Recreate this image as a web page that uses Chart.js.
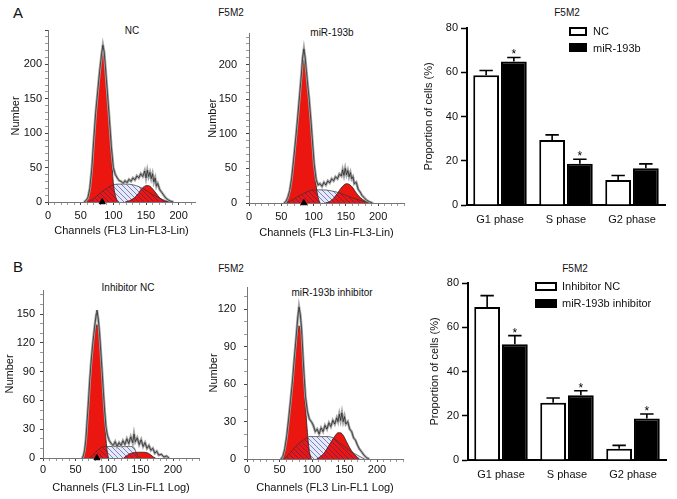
<!DOCTYPE html>
<html>
<head>
<meta charset="utf-8">
<script src="https://cdn.jsdelivr.net/npm/chart.js@4.4.0/dist/chart.umd.min.js"></script>
<style>
  body { margin: 0; background: #fff; font-family: "Liberation Sans", Arial, sans-serif; color: #111; }
  #fig { position: relative; width: 677px; height: 499px; overflow: hidden; }
  canvas { position: absolute; }
  .t { position: absolute; white-space: nowrap; transform: translate(-50%, -50%); font-size: 10px; }
  .letter { font-size: 15px; }
  .key { position: absolute; box-sizing: border-box; border: 2px solid #000; }
  .keytxt { position: absolute; white-space: nowrap; transform: translateY(-50%); font-size: 11px; }
</style>
</head>
<body>
<div id="fig">
  <div class="t letter" style="left:18px;top:12px">A</div>
  <div class="t letter" style="left:18px;top:266px">B</div>
  <div class="t" style="left:231px;top:12px">F5M2</div>
  <div class="t" style="left:231px;top:268px">F5M2</div>

  <div class="t" style="left:132px;top:30px">NC</div>
  <div class="t" style="left:332px;top:32px">miR-193b</div>
  <div class="t" style="left:128px;top:287px">Inhibitor NC</div>
  <div class="t" style="left:332px;top:292px">miR-193b inhibitor</div>

  <div class="t" style="left:567px;top:12px">F5M2</div>
  <div class="t" style="left:575px;top:268px">F5M2</div>

  <canvas id="histANc" width="215" height="222" style="left:0;top:18px"></canvas>
  <canvas id="histAMir" width="220" height="222" style="left:205px;top:18px"></canvas>
  <canvas id="histBNc" width="215" height="229" style="left:0;top:270px"></canvas>
  <canvas id="histBMir" width="220" height="229" style="left:205px;top:270px"></canvas>
  <canvas id="barA" width="257" height="240" style="left:420px;top:0"></canvas>
  <canvas id="barB" width="257" height="259" style="left:420px;top:240px"></canvas>

  <div class="key" style="left:569px;top:27px;width:18px;height:9px;background:#fff"></div>
  <div class="keytxt" style="left:593px;top:31px">NC</div>
  <div class="key" style="left:569px;top:43px;width:18px;height:9px;background:#000"></div>
  <div class="keytxt" style="left:593px;top:48px">miR-193b</div>

  <div class="key" style="left:535px;top:282px;width:22px;height:9px;background:#fff"></div>
  <div class="keytxt" style="left:562px;top:286px">Inhibitor NC</div>
  <div class="key" style="left:535px;top:299px;width:22px;height:9px;background:#000"></div>
  <div class="keytxt" style="left:562px;top:303px">miR-193b inhibitor</div>
</div>

<script>
// ---- bar charts: proportion of cells (%), mean and SD ----
const phases = ['G1 phase', 'S phase', 'G2 phase'];

const aNc = [58.6, 29.4, 11.3];
const aNcSd = [2.2, 2.3, 2.0];
const aMir = [64.9, 18.6, 16.6];
const aMirSd = [1.8, 2.1, 2.0];
const aSig = [true, true, false];

const bNc = [69.2, 25.9, 5.1];
const bNcSd = [5.1, 2.1, 1.5];
const bMir = [52.3, 29.3, 18.8];
const bMirSd = [3.9, 2.0, 2.0];
const bSig = [true, true, true];

// ---- histograms: [channel, number] ----
// A, NC
const aNcG1 = [[58,0],[61,5],[64,18],[67,45],[70,85],[73,125],[76,155],[79,185],[82,208],[84,217],[86,210],[88,188],[91,150],[94,114],[97,70],[100,28],[102,14],[105,4],[108,0]];
const aNcS = [[62,0],[70,5],[80,13],[90,20],[100,25],[110,26],[120,26],[130,25],[140,22],[150,17],[160,11],[170,6],[180,2],[188,0]];
const aNcG2 = [[118,0],[125,2],[132,6],[138,12],[143,19],[148,23],[152,24],[156,23],[161,18],[166,12],[171,6],[177,2],[185,0]];
const aNcRaw = [[55,0],[58,2],[61,6],[64,20],[67,48],[70,90],[73,130],[76,160],[79,190],[82,215],[84,228],[86,218],[88,195],[91,158],[94,120],[97,80],[100,50],[103,40],[106,35],[109,31],[112,30],[115,27],[118,31],[121,28],[124,33],[127,30],[130,35],[133,32],[136,38],[139,35],[142,41],[145,37],[148,45],[150,35],[152,46],[154,37],[156,43],[158,34],[160,41],[162,29],[164,35],[166,23],[168,27],[171,18],[174,14],[177,10],[180,6],[184,3],[188,1],[192,0]];

// A, miR-193b
const aMirG1 = [[57,0],[60,6],[63,15],[66,32],[69,58],[72,85],[75,115],[78,148],[81,180],[83,198],[85,207],[87,198],[89,180],[91,162],[93,147],[96,111],[99,76],[101,50],[104,25],[107,8],[110,0]];
const aMirS = [[58,0],[66,4],[75,9],[85,14],[95,18],[105,19],[115,19],[125,18],[135,16],[145,13],[155,9],[165,6],[175,3],[185,1],[193,0]];
const aMirG2 = [[118,0],[125,2],[131,7],[137,14],[142,21],[147,26],[151,28],[155,27],[160,23],[165,16],[170,10],[176,5],[182,2],[190,0]];
const aMirRaw = [[54,0],[57,2],[60,8],[63,18],[66,36],[69,62],[72,90],[75,120],[78,152],[81,185],[83,210],[85,223],[87,210],[89,190],[91,170],[93,152],[96,118],[99,80],[101,56],[104,34],[107,26],[110,28],[113,24],[116,30],[119,26],[122,32],[125,29],[128,35],[131,32],[134,38],[137,35],[140,42],[143,39],[145,48],[147,40],[149,50],[151,41],[153,47],[155,38],[157,44],[159,35],[161,38],[163,28],[166,30],[169,20],[172,16],[175,11],[178,8],[182,4],[186,2],[191,0]];

// B, Inhibitor NC
const bNcG1 = [[62,0],[64,6],[66,18],[68,36],[70,56],[72,78],[74,96],[76,110],[78,122],[80,132],[83,139],[85,134],[87,122],[89,102],[91,82],[93,60],[95,38],[97,19],[99,6],[101,0]];
const bNcS = [[72,0],[78,4],[84,8],[90,11],[95,12],[105,12],[115,12],[125,12],[135,12],[140,11],[143,6],[146,2],[150,0]];
const bNcG2 = [[124,0],[128,2],[132,4],[136,5],[145,6],[155,6],[162,5],[166,3],[170,1],[173,0]];
const bNcRaw = [[60,0],[62,2],[64,8],[66,20],[68,40],[70,60],[72,82],[74,100],[76,115],[78,128],[80,140],[82,150],[83,154],[85,145],[87,130],[89,110],[91,90],[93,68],[95,48],[97,32],[99,24],[102,18],[105,15],[108,13],[111,17],[114,12],[117,16],[120,13],[123,18],[126,14],[129,20],[132,15],[135,22],[138,16],[140,25],[142,17],[145,21],[148,14],[151,19],[154,12],[157,16],[160,10],[163,13],[166,8],[169,10],[172,5],[175,7],[178,3],[182,4],[186,1],[190,2],[194,0]];

// B, miR-193b inhibitor
const bMirG1 = [[54,0],[57,3],[60,12],[63,24],[66,38],[69,54],[72,70],[75,87],[78,102],[80,107],[82,104],[84,98],[86,75],[88,58],[90,42],[92,28],[94,15],[96,6],[99,0]];
const bMirS = [[57,0],[65,4],[73,9],[81,13],[89,16],[95,18],[105,18],[115,18],[125,18],[132,17],[140,14],[150,10],[160,6],[170,3],[181,0]];
const bMirG2 = [[107,0],[113,2],[119,5],[125,10],[131,15],[136,19],[140,21],[144,21],[148,19],[153,14],[158,9],[163,5],[168,2],[173,0]];
const bMirRaw = [[52,0],[55,2],[58,8],[61,18],[64,32],[67,47],[70,63],[73,82],[76,100],[78,113],[80,122],[82,116],[84,104],[86,84],[88,66],[90,50],[93,38],[96,32],[99,30],[102,27],[105,22],[108,24],[111,20],[114,25],[117,22],[120,27],[123,24],[126,29],[129,26],[132,31],[135,28],[138,33],[140,30],[142,36],[144,31],[146,37],[148,30],[150,34],[152,28],[155,30],[158,24],[161,22],[164,17],[167,15],[170,11],[173,8],[176,6],[180,3],[184,1],[188,0]];

Chart.defaults.font.family = '"Liberation Sans", Arial, sans-serif';
Chart.defaults.color = '#111';
Chart.defaults.animation = false;
Chart.defaults.plugins.legend.display = false;
Chart.defaults.plugins.tooltip.enabled = false;

const RED = 'rgb(236,22,16)';

// diagonal hatching "\\\" used for the S phase
function hatch(color, bg) {
  const c = document.createElement('canvas');
  c.width = c.height = 5;
  const g = c.getContext('2d');
  if (bg) { g.fillStyle = bg; g.fillRect(0, 0, 5, 5); }
  g.strokeStyle = color;
  g.lineWidth = 0.9;
  g.beginPath();
  g.moveTo(-1, -1); g.lineTo(6, 6);
  g.moveTo(-1, 4); g.lineTo(1, 6);
  g.moveTo(4, -1); g.lineTo(6, 1);
  g.stroke();
  return g.createPattern(c, 'repeat');
}
const hatchLines = hatch('rgba(40,40,140,0.6)');

const xy = pts => pts.map(([x, y]) => ({ x, y }));

function histogram(id, g1, s, g2, raw, marker, o) {
  const fit = { pointRadius: 0, cubicInterpolationMode: 'monotone', fill: 'origin' };
  const datasets = [
    { data: xy(raw), borderColor: '#1a1a1a', borderWidth: 0.7, pointRadius: 0, order: 0 },
    { data: xy(raw), borderColor: '#a5a5a5', borderWidth: 2.6, pointRadius: 0, order: 1 },
    { ...fit, data: xy(s), backgroundColor: hatchLines, borderColor: '#333', borderWidth: 0.7, order: 2 },
    { ...fit, data: xy(g1), backgroundColor: RED, borderColor: '#222', borderWidth: 0.8, order: 3 },
    { ...fit, data: xy(g2), backgroundColor: RED, borderColor: '#222', borderWidth: 0.8, order: 3 },
    { ...fit, data: xy(s), backgroundColor: '#e6e9f8', borderWidth: 0, order: 4 }
  ];
  if (marker != null) {
    datasets.push({ type: 'scatter', data: [{ x: marker, y: 0 }], pointStyle: 'triangle',
      pointRadius: 3.5, backgroundColor: '#000', borderColor: '#000', clip: false, order: -1 });
  }
  const tickCol = major => c => (c.tick && c.tick.value % major === 0 ? '#444' : '#9a9a9a');
  new Chart(document.getElementById(id), {
    type: 'line',
    data: { datasets },
    options: {
      responsive: false,
      layout: { padding: { left: 0, top: o.padTop, right: o.padRight, bottom: 0 } },
      scales: {
        x: {
          type: 'linear', min: 0, max: o.xMax,
          afterFit: sc => { sc.height = o.xH; },
          ticks: { stepSize: 10, maxTicksLimit: 60, autoSkip: false, maxRotation: 0, includeBounds: false,
            padding: o.xTickPad, font: { size: 11 }, callback: v => (v % 50 === 0 && v <= 200 ? v : '') },
          grid: { drawOnChartArea: false, tickLength: 3, tickColor: tickCol(50) },
          border: { color: '#777' },
          title: { display: true, text: o.xTitle, font: { size: 11 }, padding: { top: 0, bottom: o.xTitlePad } }
        },
        y: {
          min: 0, max: o.yMax,
          afterFit: sc => { sc.width = o.yW; },
          ticks: { stepSize: 10, maxTicksLimit: 60, autoSkip: false, includeBounds: false,
            padding: o.yTickPad, font: { size: 11 },
            callback: v => (v % o.yMajor === 0 && v <= o.yLabelMax ? v : '') },
          grid: { drawOnChartArea: false, tickLength: 3, tickColor: tickCol(o.yMajor) },
          border: { color: '#777' },
          title: { display: true, text: 'Number', font: { size: 11 }, padding: { top: o.yTitlePad, bottom: 0 } }
        }
      }
    }
  });
}

// error bars (upper SD) and significance stars
const errorBars = {
  id: 'errorBars',
  afterDatasetsDraw(chart) {
    const { ctx } = chart;
    const y = chart.scales.y;
    ctx.save();
    chart.data.datasets.forEach((ds, i) => {
      chart.getDatasetMeta(i).data.forEach((bar, j) => {
        const top = y.getPixelForValue(ds.data[j] + ds.sd[j]);
        const half = bar.width * 0.26;
        ctx.strokeStyle = '#000';
        ctx.lineWidth = 1.6;
        ctx.beginPath();
        ctx.moveTo(bar.x, bar.y);
        ctx.lineTo(bar.x, top);
        ctx.moveTo(bar.x - half, top);
        ctx.lineTo(bar.x + half, top);
        ctx.stroke();
        if (ds.stars && ds.stars[j]) {
          ctx.fillStyle = '#000';
          ctx.font = '12px "Liberation Sans", Arial, sans-serif';
          ctx.textAlign = 'center';
          ctx.fillText('*', bar.x, top + 1);
        }
      });
    });
    ctx.restore();
  }
};

function barChart(id, ncLabel, nc, ncSd, mirLabel, mir, mirSd, sig, o) {
  new Chart(document.getElementById(id), {
    type: 'bar',
    data: {
      labels: phases,
      datasets: [
        { label: ncLabel, data: nc, sd: ncSd, backgroundColor: '#fff', borderColor: '#000', borderWidth: 2 },
        { label: mirLabel, data: mir, sd: mirSd, stars: sig, backgroundColor: '#000', borderColor: '#000', borderWidth: 2 }
      ]
    },
    options: {
      responsive: false,
      categoryPercentage: 0.84,
      barPercentage: 0.93,
      layout: { padding: { left: 0, top: o.padTop, right: o.padRight, bottom: 0 } },
      scales: {
        x: {
          afterFit: sc => { sc.height = o.xH; },
          ticks: { padding: 8, font: { size: 11 } },
          grid: { display: false, drawTicks: false },
          border: { color: '#000', width: 2 }
        },
        y: {
          min: 0, max: 80,
          afterFit: sc => { sc.width = o.yW; },
          ticks: { stepSize: 20, padding: 3, font: { size: 11 } },
          grid: { drawOnChartArea: false, tickLength: 6, tickColor: '#000', tickWidth: 1.5 },
          border: { color: '#000', width: 2 },
          title: { display: true, text: 'Proportion of cells (%)', font: { size: 11 }, padding: { top: o.yTitlePad, bottom: 0 } }
        }
      }
    },
    plugins: [errorBars]
  });
}

histogram('histANc', aNcG1, aNcS, aNcG2, aNcRaw, 83,
  { padTop: 12, padRight: 20, xH: 38, yW: 48, xMax: 225, yMax: 250, yMajor: 50, yLabelMax: 200,
    xTickPad: 4.4, xTitlePad: 2, yTickPad: 3, yTitlePad: 9.4, xTitle: 'Channels (FL3 Lin-FL3-Lin)' });
histogram('histAMir', aMirG1, aMirS, aMirG2, aMirRaw, 85,
  { padTop: 14, padRight: 21, xH: 37, yW: 44, xMax: 240, yMax: 245, yMajor: 50, yLabelMax: 200,
    xTickPad: 4.4, xTitlePad: 0.4, yTickPad: 9, yTitlePad: 1.4, xTitle: 'Channels (FL3 Lin-FL3-Lin)' });
histogram('histBNc', bNcG1, bNcS, bNcG2, bNcRaw, 83,
  { padTop: 20, padRight: 16, xH: 41, yW: 43, xMax: 240, yMax: 175, yMajor: 30, yLabelMax: 150,
    xTickPad: 2.4, xTitlePad: 4.4, yTickPad: 5, yTitlePad: 3.4, xTitle: 'Channels (FL3 Lin-FL1 Log)' });
histogram('histBMir', bMirG1, bMirS, bMirG2, bMirRaw, null,
  { padTop: 17, padRight: 22, xH: 40, yW: 42, xMax: 240, yMax: 138, yMajor: 30, yLabelMax: 120,
    xTickPad: 1.4, xTitlePad: 4.4, yTickPad: 8, yTitlePad: 2.4, xTitle: 'Channels (FL3 Lin-FL1 Log)' });

barChart('barA', 'NC', aNc, aNcSd, 'miR-193b', aMir, aMirSd, aSig,
  { padTop: 28, padRight: 12, xH: 35, yW: 47, yTitlePad: 2.4 });
barChart('barB', 'Inhibitor NC', bNc, bNcSd, 'miR-193b inhibitor', bMir, bMirSd, bSig,
  { padTop: 43, padRight: 11, xH: 39, yW: 48, yTitlePad: 8.4 });
</script>
</body>
</html>
